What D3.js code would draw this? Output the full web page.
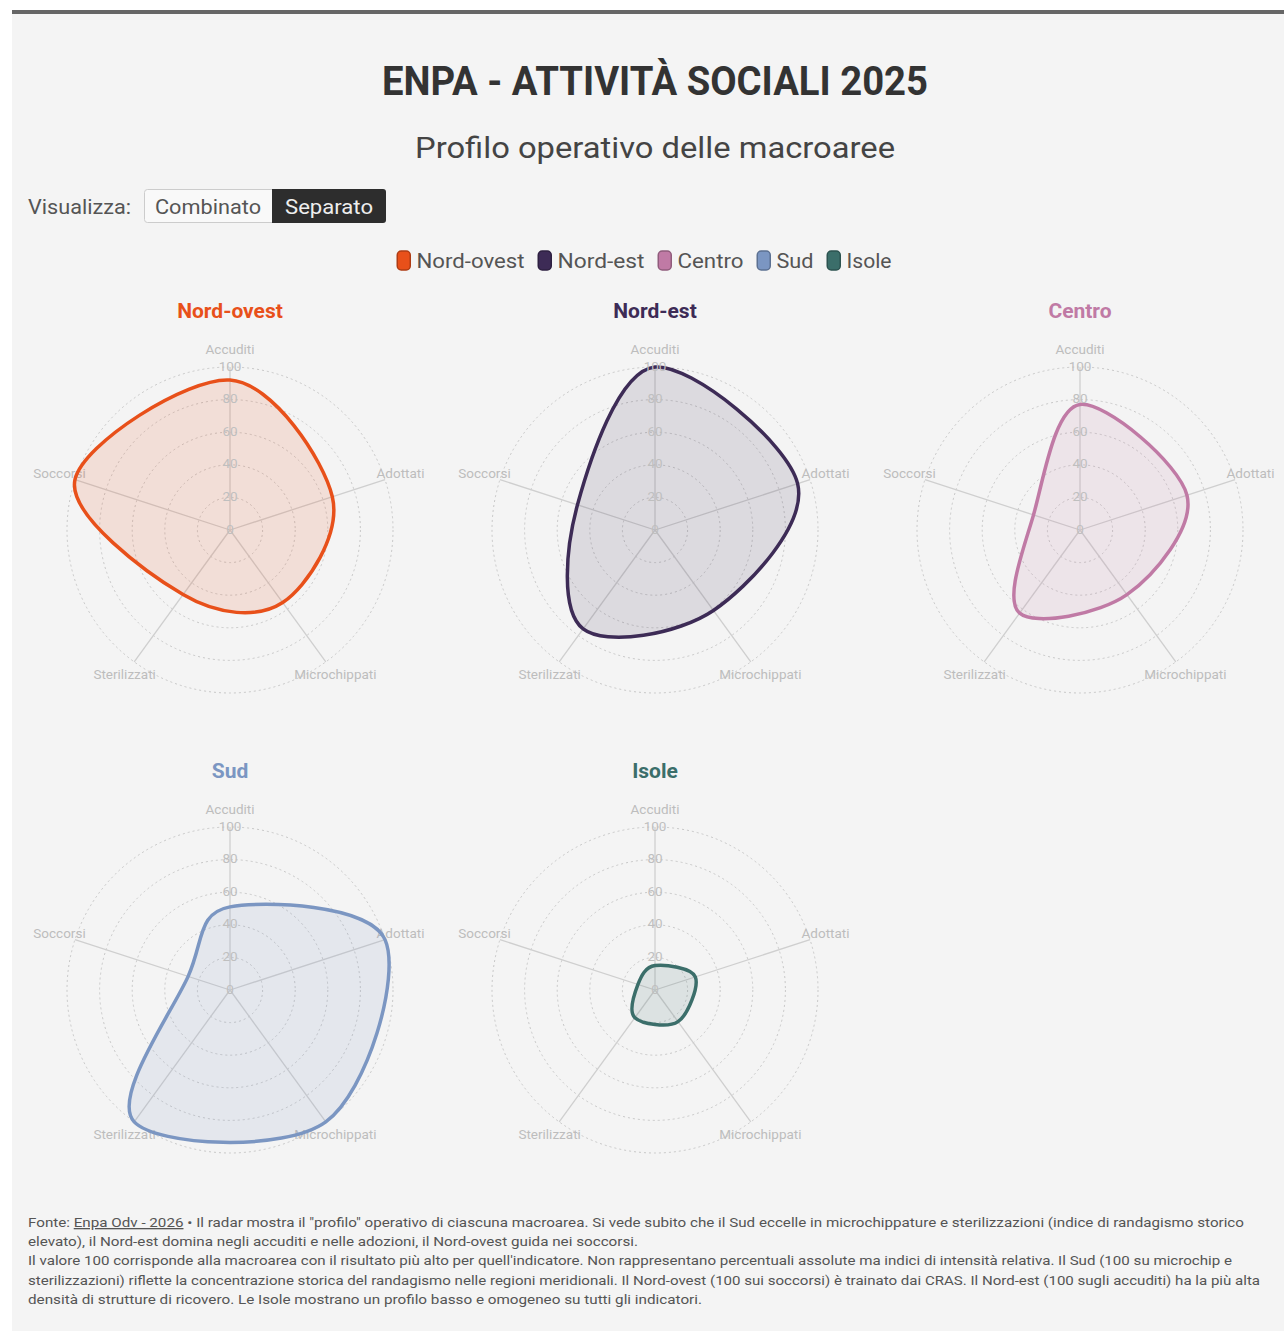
<!DOCTYPE html>
<html>
<head>
<meta charset="utf-8">
<script src="https://cdn.jsdelivr.net/npm/d3@7"></script>
<style>
  html, body { margin: 0; padding: 0; background: #ffffff; }
  svg { display: block; }
  text { font-family: Roboto, "Noto Sans", sans-serif; }
</style>
</head>
<body>
<svg id="chart" width="1284" height="1331"></svg>
<script>
// ---- Data ----
const axesLabels = ["Accuditi", "Adottati", "Microchippati", "Sterilizzati", "Soccorsi"];
const regionNames = ["Nord-ovest", "Nord-est", "Centro", "Sud", "Isole"];
const nordOvestValues = [92, 66, 55, 49, 100];
const nordEstValues = [100, 92, 61, 75, 50];
const centroValues = [77, 69, 49, 63, 30];
const sudValues = [51, 100, 100, 100, 27];
const isoleValues = [15, 26, 24, 21, 11];
const tickValues = [0, 20, 40, 60, 80, 100];
const regionColors = ["#e8501a", "#3d2b56", "#c07aa5", "#7b96c2", "#3b6e6a"];

const titleText = "ENPA - ATTIVITÀ SOCIALI 2025";
const subtitleText = "Profilo operativo delle macroaree";
const footerLines = [
  ["Fonte: ", "Enpa Odv - 2026", " • Il radar mostra il \"profilo\" operativo di ciascuna macroarea. Si vede subito che il Sud eccelle in microchippature e sterilizzazioni (indice di randagismo storico"],
  ["elevato), il Nord-est domina negli accuditi e nelle adozioni, il Nord-ovest guida nei soccorsi."],
  ["Il valore 100 corrisponde alla macroarea con il risultato più alto per quell'indicatore. Non rappresentano percentuali assolute ma indici di intensità relativa. Il Sud (100 su microchip e"],
  ["sterilizzazioni) riflette la concentrazione storica del randagismo nelle regioni meridionali. Il Nord-ovest (100 sui soccorsi) è trainato dai CRAS. Il Nord-est (100 sugli accuditi) ha la più alta"],
  ["densità di strutture di ricovero. Le Isole mostrano un profilo basso e omogeneo su tutti gli indicatori."]
];
const footerWidths = [1216, 610, 1204, 1232, 674];
const legendTextWidths = [108, 87, 66, 37, 45];

const series = [nordOvestValues, nordEstValues, centroValues, sudValues, isoleValues];

// ---- Layout ----
const svg = d3.select("#chart");
svg.append("rect").attr("x", 12).attr("y", 14).attr("width", 1272).attr("height", 1317).attr("fill", "#f4f4f4");
svg.append("rect").attr("x", 12).attr("y", 10).attr("width", 1272).attr("height", 4).attr("fill", "#666");

function fit(sel, target) {
  const w = sel.node().getComputedTextLength();
  if (Math.abs(w - target) > 2) sel.attr("textLength", target).attr("lengthAdjust", "spacingAndGlyphs");
}

const title = svg.append("text").attr("x", 655).attr("y", 95).attr("text-anchor", "middle")
  .attr("font-size", 40).attr("font-weight", 700).attr("fill", "#333").text(titleText);
fit(title, 546);
const subtitle = svg.append("text").attr("x", 655).attr("y", 158).attr("text-anchor", "middle")
  .attr("font-size", 30).attr("fill", "#444").text(subtitleText);
fit(subtitle, 480);

// Toggle
const vis = svg.append("text").attr("x", 28).attr("y", 214).attr("font-size", 20).attr("fill", "#555").text("Visualizza:");
fit(vis, 103);
svg.append("rect").attr("x", 144.5).attr("y", 189.5).attr("width", 140).attr("height", 33).attr("rx", 3)
  .attr("fill", "#f9f9f9").attr("stroke", "#ccc");
svg.append("rect").attr("x", 272).attr("y", 189).attr("width", 114).attr("height", 34).attr("rx", 3)
  .attr("fill", "#2d2d2d");
svg.append("rect").attr("x", 272).attr("y", 189).attr("width", 8).attr("height", 34).attr("fill", "#2d2d2d");
const comb = svg.append("text").attr("x", 208).attr("y", 214).attr("text-anchor", "middle").attr("font-size", 20).attr("fill", "#555").text("Combinato");
fit(comb, 106);
const sep = svg.append("text").attr("x", 329).attr("y", 214).attr("text-anchor", "middle").attr("font-size", 20).attr("fill", "#eee").text("Separato");
fit(sep, 88);

// Legend
const legend = svg.append("g");
let lx = 0;
regionNames.forEach((name, i) => {
  const g = legend.append("g").attr("transform", `translate(${lx},0)`);
  g.append("rect").attr("x", 0.75).attr("y", 251).attr("width", 13).attr("height", 19).attr("rx", 4)
    .attr("fill", regionColors[i]).attr("stroke", d3.color(regionColors[i]).darker(0.8)).attr("stroke-width", 1.5);
  const t = g.append("text").attr("x", 20).attr("y", 268).attr("font-size", 20).attr("fill", "#555").text(name);
  fit(t, legendTextWidths[i]);
  lx += 20 + legendTextWidths[i] + 13;
});
const legendW = lx - 13;
legend.attr("transform", `translate(${644 - legendW / 2},0)`);

// Radars
const R = 163;
const rScale = d3.scaleLinear().domain([0, 100]).range([0, R]);
const angle = d3.scaleLinear().domain([0, axesLabels.length]).range([0, 2 * Math.PI]);
const centers = [[230, 530], [655, 530], [1080, 530], [230, 990], [655, 990]];
const radial = d3.lineRadial()
  .angle((d, i) => angle(i))
  .radius(d => rScale(d))
  .curve(d3.curveCardinalClosed);

series.forEach((vals, k) => {
  const [cx, cy] = centers[k];
  const g = svg.append("g").attr("transform", `translate(${cx},${cy})`);
  // panel title
  const pt = svg.append("text").attr("x", cx).attr("y", cy - 212).attr("text-anchor", "middle")
    .attr("font-size", 21).attr("font-weight", 700).attr("fill", regionColors[k]).text(regionNames[k]);
  // rings
  tickValues.slice(1).forEach(t => {
    g.append("circle").attr("r", rScale(t)).attr("fill", "none")
      .attr("stroke", "#c8c8c8").attr("stroke-width", 1).attr("stroke-dasharray", "2,3");
  });
  // axes
  axesLabels.forEach((lab, i) => {
    const a = angle(i);
    g.append("line").attr("x1", 0).attr("y1", 0)
      .attr("x2", Math.sin(a) * R).attr("y2", -Math.cos(a) * R)
      .attr("stroke", "#cfcfcf").attr("stroke-width", 1.3);
    g.append("text").attr("x", Math.sin(a) * rScale(110)).attr("y", -Math.cos(a) * rScale(110))
      .attr("text-anchor", "middle").attr("dominant-baseline", "middle")
      .attr("font-size", 13.5).attr("fill", "#bdbdbd").text(lab);
  });
  // shape
  g.append("path").datum(vals).attr("d", radial)
    .attr("fill", regionColors[k]).attr("fill-opacity", 0.13)
    .attr("stroke", regionColors[k]).attr("stroke-width", 3.5).attr("stroke-linejoin", "round");
  // tick labels
  tickValues.forEach(t => {
    g.append("text").attr("x", 0).attr("y", -rScale(t)).attr("text-anchor", "middle")
      .attr("dominant-baseline", "middle").attr("font-size", 13.5).attr("fill", "#bfbfbf").text(t);
  });
});

// Footer
footerLines.forEach((parts, i) => {
  const t = svg.append("text").attr("x", 28).attr("y", 1227 + i * 19.2).attr("font-size", 13).attr("fill", "#555");
  parts.forEach((p, j) => {
    const ts = t.append("tspan").text(p);
    if (i === 0 && j === 1) ts.attr("text-decoration", "underline");
  });
  fit(t, footerWidths[i]);
});
</script>
</body>
</html>
